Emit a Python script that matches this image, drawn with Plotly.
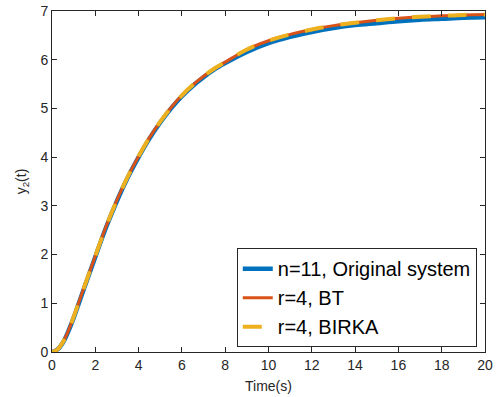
import plotly.graph_objects as go

# Time samples (s)
t = [0, 0.25, 0.5, 0.75, 1, 1.5, 2, 2.5, 3, 3.5, 4, 4.5, 5, 5.5, 6, 6.5, 7, 7.5, 8,
     9, 10, 11, 12, 13, 14, 15, 16, 17, 18, 19, 20]

# n=11, Original system
y_orig = [0, 0.05, 0.19, 0.42, 0.70, 1.33, 1.95, 2.56, 3.10, 3.58, 4.00, 4.38, 4.71, 5.00,
          5.25, 5.46, 5.64, 5.80, 5.93, 6.16, 6.34, 6.47, 6.57, 6.65, 6.71, 6.75, 6.79,
          6.82, 6.84, 6.86, 6.87]

# r=4, BT
y_bt = [0, 0.05, 0.20, 0.43, 0.72, 1.35, 1.97, 2.58, 3.12, 3.60, 4.02, 4.40, 4.73, 5.02,
        5.27, 5.48, 5.66, 5.82, 5.95, 6.21, 6.39, 6.52, 6.62, 6.70, 6.76, 6.81, 6.85,
        6.88, 6.90, 6.92, 6.93]

# r=4, BIRKA
y_birka = [0, 0.05, 0.20, 0.43, 0.72, 1.35, 1.97, 2.58, 3.12, 3.60, 4.02, 4.40, 4.73, 5.02,
           5.27, 5.48, 5.66, 5.82, 5.95, 6.21, 6.39, 6.52, 6.62, 6.70, 6.76, 6.81, 6.85,
           6.88, 6.90, 6.92, 6.93]

x_ticks = list(range(0, 21, 2))
y_ticks = list(range(0, 8))

FONT = "Liberation Sans, Arial, sans-serif"
AX = "#262626"

fig = go.Figure()
fig.add_trace(go.Scatter(x=t, y=y_orig, mode="lines", name="n=11, Original system",
                         line=dict(color="#0072BD", width=4.5, shape="spline")))
fig.add_trace(go.Scatter(x=t, y=y_bt, mode="lines", name="r=4, BT",
                         line=dict(color="#D95319", width=3, shape="spline")))
fig.add_trace(go.Scatter(x=t, y=y_birka, mode="lines", name="r=4, BIRKA",
                         line=dict(color="#EDB120", width=4, dash="19px,17px", shape="spline")))

axis_common = dict(showgrid=False, zeroline=False, showline=True, linecolor=AX, linewidth=1,
                   mirror="ticks", ticks="inside", ticklen=5, tickwidth=1, tickcolor=AX,
                   tickfont=dict(family=FONT, size=14, color=AX), automargin=False)

fig.update_xaxes(range=[0, 20], tickvals=x_ticks, ticktext=[str(v) for v in x_ticks],
                 title=dict(text="Time(s)", font=dict(family=FONT, size=14, color=AX), standoff=9),
                 **axis_common)
fig.update_yaxes(range=[0, 7], tickvals=y_ticks, ticktext=[str(v) for v in y_ticks],
                 title=dict(text="y<sub>2</sub>(t)", font=dict(family=FONT, size=14, color=AX), standoff=10),
                 **axis_common)

fig.update_layout(
    width=499, height=397,
    margin=dict(l=52, r=14, t=11, b=45),
    paper_bgcolor="white", plot_bgcolor="white",
    showlegend=True,
    legend=dict(x=0.981, y=0.3045, xanchor="right", yanchor="top",
                bgcolor="white", bordercolor=AX, borderwidth=1,
                font=dict(family=FONT, size=20, color="black"),
                tracegroupgap=0),
)

fig.write_html("out.html", config={"displayModeBar": False},
               post_script="document.body.style.margin='0';document.body.style.padding='0';")
